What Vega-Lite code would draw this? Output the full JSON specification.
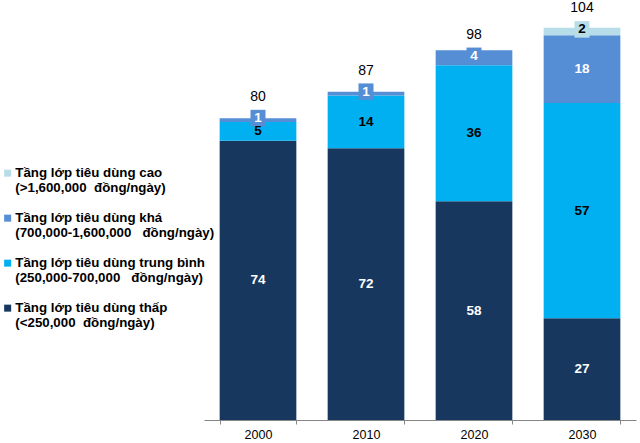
{
  "$schema": "https://vega.github.io/schema/vega-lite/v6.json",
  "width": 432,
  "height": 415,
  "autosize": {"type": "none"},
  "padding": {"left": 204, "top": 5, "right": 4, "bottom": 23},
  "background": "white",
  "config": {
    "view": {"stroke": null},
    "font": "Liberation Sans"
  },
  "data": {
    "values": [
      {"year": "2000", "cls": "Tầng lớp tiêu dùng thấp|(<250,000 \u00a0đồng/ngày)", "ord": 1, "value": 74},
      {"year": "2000", "cls": "Tầng lớp tiêu dùng trung bình|(250,000-700,000 \u00a0 đồng/ngày)", "ord": 2, "value": 5},
      {"year": "2000", "cls": "Tầng lớp tiêu dùng khá|(700,000-1,600,000 \u00a0 đồng/ngày)", "ord": 3, "value": 1},
      {"year": "2010", "cls": "Tầng lớp tiêu dùng thấp|(<250,000 \u00a0đồng/ngày)", "ord": 1, "value": 72},
      {"year": "2010", "cls": "Tầng lớp tiêu dùng trung bình|(250,000-700,000 \u00a0 đồng/ngày)", "ord": 2, "value": 14},
      {"year": "2010", "cls": "Tầng lớp tiêu dùng khá|(700,000-1,600,000 \u00a0 đồng/ngày)", "ord": 3, "value": 1},
      {"year": "2020", "cls": "Tầng lớp tiêu dùng thấp|(<250,000 \u00a0đồng/ngày)", "ord": 1, "value": 58},
      {"year": "2020", "cls": "Tầng lớp tiêu dùng trung bình|(250,000-700,000 \u00a0 đồng/ngày)", "ord": 2, "value": 36},
      {"year": "2020", "cls": "Tầng lớp tiêu dùng khá|(700,000-1,600,000 \u00a0 đồng/ngày)", "ord": 3, "value": 4},
      {"year": "2030", "cls": "Tầng lớp tiêu dùng thấp|(<250,000 \u00a0đồng/ngày)", "ord": 1, "value": 27},
      {"year": "2030", "cls": "Tầng lớp tiêu dùng trung bình|(250,000-700,000 \u00a0 đồng/ngày)", "ord": 2, "value": 57},
      {"year": "2030", "cls": "Tầng lớp tiêu dùng khá|(700,000-1,600,000 \u00a0 đồng/ngày)", "ord": 3, "value": 18},
      {"year": "2030", "cls": "Tầng lớp tiêu dùng cao|(>1,600,000 \u00a0đồng/ngày)", "ord": 4, "value": 2}
    ]
  },
  "transform": [
    {"stack": "value", "groupby": ["year"], "sort": [{"field": "ord", "order": "ascending"}], "as": ["y0", "y1"]},
    {"joinaggregate": [{"op": "sum", "field": "value", "as": "total"}], "groupby": ["year"]}
  ],
  "encoding": {
    "x": {
      "field": "year",
      "type": "ordinal",
      "scale": {"paddingInner": 0.29, "paddingOuter": 0.145},
      "axis": {
        "title": null,
        "labelAngle": 0,
        "labelFontSize": 12.5,
        "labelColor": "black",
        "labelPadding": 4,
        "domainColor": "#868686",
        "tickColor": "#868686",
        "tickSize": 4,
        "tickBand": "extent"
      }
    }
  },
  "layer": [
    {
      "mark": {"type": "bar"},
      "encoding": {
        "y": {"field": "y1", "type": "quantitative", "scale": {"domain": [0, 110]}, "axis": null},
        "y2": {"field": "y0"},
        "color": {
          "field": "cls",
          "type": "nominal",
          "scale": {
            "domain": [
              "Tầng lớp tiêu dùng cao|(>1,600,000 \u00a0đồng/ngày)",
              "Tầng lớp tiêu dùng khá|(700,000-1,600,000 \u00a0 đồng/ngày)",
              "Tầng lớp tiêu dùng trung bình|(250,000-700,000 \u00a0 đồng/ngày)",
              "Tầng lớp tiêu dùng thấp|(<250,000 \u00a0đồng/ngày)"
            ],
            "range": ["#B7DEE8", "#558ED5", "#00B0F0", "#17375E"]
          },
          "legend": {
            "orient": "none",
            "legendX": -203,
            "legendY": 165,
            "title": null,
            "padding": 0,
            "symbolType": "M-1,-2h2v2h-2z",
            "symbolSize": 49,
            "symbolStrokeWidth": 0,
            "labelFontSize": 13.3,
            "labelFontWeight": "bold",
            "labelColor": "black",
            "labelBaseline": "alphabetic",
            "labelExpr": "split(datum.label, '|')",
            "labelLimit": 0,
            "labelLineHeight": 14,
            "labelOffset": 1,
            "rowPadding": 15
          }
        }
      }
    },
    {
      "transform": [
        {"fold": ["y0", "y1"], "as": ["k", "v"]},
        {"aggregate": [{"op": "mean", "field": "v", "as": "mid"}], "groupby": ["year", "cls", "ord", "value", "total"]}
      ],
      "layer": [
        {
          "transform": [{"filter": "datum.value < 5"}],
          "mark": {"type": "point", "shape": "M-1,-1.367h2v2.2h-2z", "filled": true, "opacity": 1, "size": 225, "strokeWidth": 0},
          "encoding": {
            "y": {"field": "mid", "type": "quantitative", "axis": null},
            "color": {"field": "cls", "type": "nominal"}
          }
        },
        {
          "transform": [{"filter": "datum.value < 5"}],
          "mark": {"type": "text", "fontSize": 13.5, "fontWeight": "bold", "baseline": "middle", "dy": -2},
          "encoding": {
            "y": {"field": "mid", "type": "quantitative", "axis": null},
            "text": {"field": "value", "type": "quantitative"},
            "color": {"condition": {"test": "datum.ord == 1 || datum.ord == 3", "value": "white"}, "value": "black"}
          }
        },
        {
          "transform": [{"filter": "datum.value >= 5"}],
          "mark": {"type": "text", "fontSize": 13.5, "fontWeight": "bold", "baseline": "middle"},
          "encoding": {
            "y": {"field": "mid", "type": "quantitative", "axis": null},
            "text": {"field": "value", "type": "quantitative"},
            "color": {"condition": {"test": "datum.ord == 1 || datum.ord == 3", "value": "white"}, "value": "black"}
          }
        },
        {
          "transform": [{"filter": "datum.value < 5"}],
          "mark": {"type": "text", "fontSize": 14, "baseline": "alphabetic", "dy": -19, "color": "black"},
          "encoding": {
            "y": {"field": "mid", "type": "quantitative", "axis": null},
            "text": {"field": "total", "type": "quantitative"}
          }
        }
      ]
    }
  ]
}
